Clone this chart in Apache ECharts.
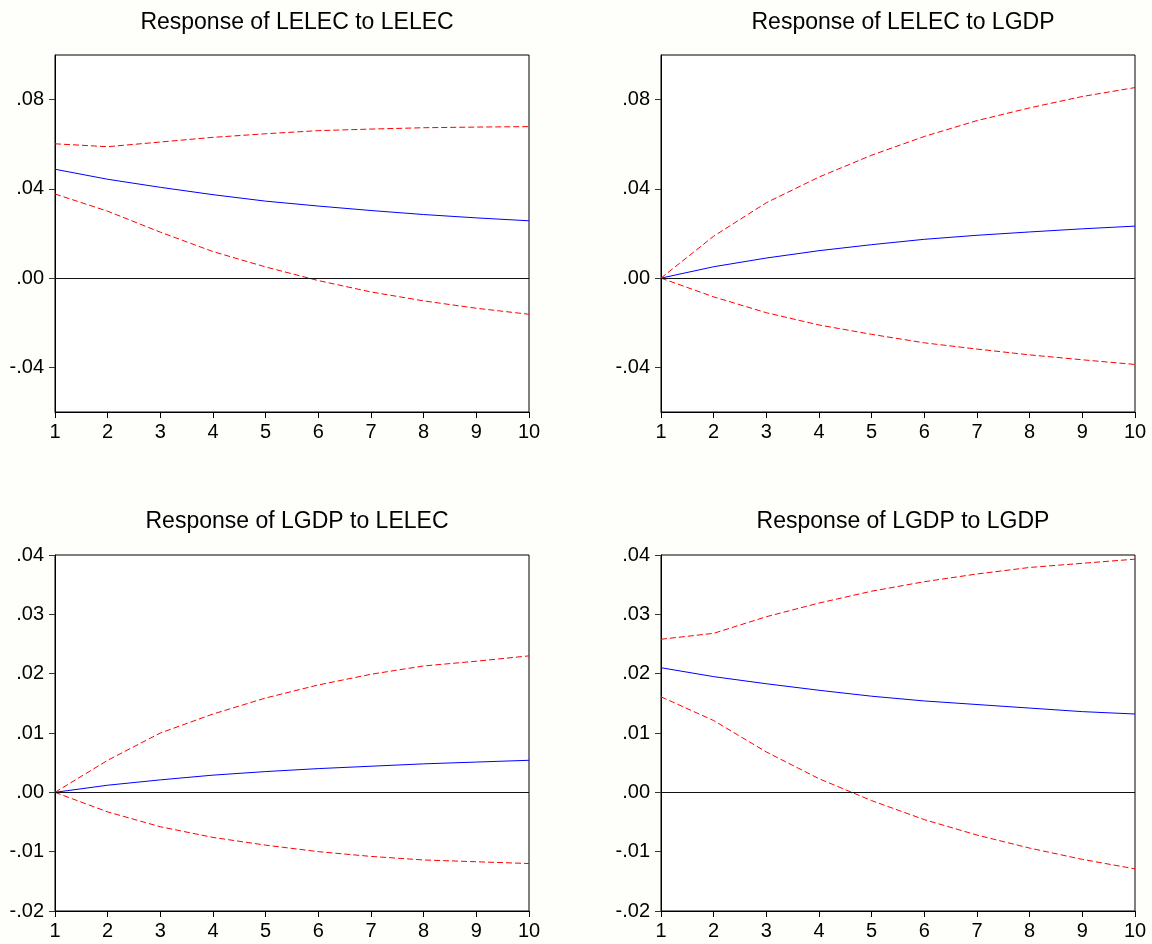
<!DOCTYPE html>
<html>
<head>
<meta charset="utf-8">
<script src="https://cdn.jsdelivr.net/npm/echarts@6/dist/echarts.min.js"></script>
<style>
html,body{margin:0;padding:0;background:#fefefa;}
#chart{width:1152px;height:944px;}
</style>
</head>
<body>
<div id="chart"></div>
<script>
const periods = [1, 2, 3, 4, 5, 6, 7, 8, 9, 10];

const titles = [
  "Response of LELEC to LELEC",
  "Response of LELEC to LGDP",
  "Response of LGDP to LELEC",
  "Response of LGDP to LGDP"
];

// Panel 1: LELEC to LELEC
const p1Resp  = [0.0488, 0.0443, 0.0407, 0.0374, 0.0345, 0.0323, 0.0303, 0.0285, 0.0270, 0.0257];
const p1Upper = [0.0602, 0.0589, 0.0610, 0.0631, 0.0647, 0.0661, 0.0668, 0.0674, 0.0677, 0.0679];
const p1Lower = [0.0377, 0.0300, 0.0206, 0.0119, 0.0050, -0.0011, -0.0062, -0.0102, -0.0135, -0.0162];

// Panel 2: LELEC to LGDP
const p2Resp  = [0.0000, 0.0051, 0.0090, 0.0123, 0.0150, 0.0174, 0.0192, 0.0207, 0.0221, 0.0233];
const p2Upper = [0.0000, 0.0188, 0.0338, 0.0453, 0.0551, 0.0635, 0.0706, 0.0763, 0.0814, 0.0854];
const p2Lower = [0.0000, -0.0084, -0.0155, -0.0210, -0.0252, -0.0290, -0.0318, -0.0344, -0.0366, -0.0387];

// Panel 3: LGDP to LELEC
const p3Resp  = [0.0000, 0.0012, 0.0021, 0.0029, 0.0035, 0.0040, 0.0044, 0.0048, 0.0051, 0.0054];
const p3Upper = [0.0000, 0.0054, 0.0100, 0.0132, 0.0159, 0.0181, 0.0199, 0.0213, 0.0221, 0.0230];
const p3Lower = [0.0000, -0.0033, -0.0058, -0.0076, -0.0089, -0.0100, -0.0108, -0.0114, -0.0117, -0.0120];

// Panel 4: LGDP to LGDP
const p4Resp  = [0.0210, 0.0195, 0.0183, 0.0172, 0.0162, 0.0154, 0.0148, 0.0142, 0.0136, 0.0132];
const p4Upper = [0.0258, 0.0268, 0.0296, 0.0319, 0.0339, 0.0355, 0.0368, 0.0379, 0.0386, 0.0393];
const p4Lower = [0.0161, 0.0121, 0.0068, 0.0023, -0.0014, -0.0046, -0.0072, -0.0094, -0.0113, -0.0129];

const topYTicks = [-0.04, 0.00, 0.04, 0.08];
const botYTicks = [-0.02, -0.01, 0.00, 0.01, 0.02, 0.03, 0.04];

const panels = [
  {resp: p1Resp, up: p1Upper, lo: p1Lower, min: -0.06, max: 0.10, ticks: topYTicks},
  {resp: p2Resp, up: p2Upper, lo: p2Lower, min: -0.06, max: 0.10, ticks: topYTicks},
  {resp: p3Resp, up: p3Upper, lo: p3Lower, min: -0.02, max: 0.04, ticks: botYTicks},
  {resp: p4Resp, up: p4Upper, lo: p4Lower, min: -0.02, max: 0.04, ticks: botYTicks}
];

const grids = [
  {left: 55, top: 55, width: 474, height: 357},
  {left: 661, top: 55, width: 474, height: 357},
  {left: 55, top: 555, width: 474, height: 356},
  {left: 661, top: 555, width: 474, height: 356}
];

const FONT = "Liberation Sans, Arial, sans-serif";

function fmt(v) {
  let s = Math.abs(v) < 1e-9 ? "0.00" : v.toFixed(2);
  return s.replace("0.", ".");
}

const option = {
  backgroundColor: "#fefefa",
  animation: false,
  title: titles.map((t, i) => ({
    text: t,
    left: grids[i].left + grids[i].width / 2,
    textAlign: "center",
    top: (i < 2 ? 6 : 505),
    textStyle: {fontFamily: FONT, fontSize: 23, fontWeight: "normal", color: "#000"}
  })),
  grid: grids.map(g => Object.assign({}, g, {
    show: true, backgroundColor: "#ffffff", borderColor: "#000", borderWidth: 1,
    containLabel: false
  })),
  xAxis: grids.map((g, i) => ({
    type: "value", gridIndex: i, min: 1, max: 10, interval: 1,
    axisLine: {show: true, onZero: false, lineStyle: {color: "#000", width: 1}},
    axisTick: {show: true, inside: false, length: 6, lineStyle: {color: "#000"}},
    axisLabel: {fontFamily: FONT, fontSize: 20, color: "#000", margin: 10},
    splitLine: {show: false}
  })),
  yAxis: panels.map((p, i) => ({
    type: "value", gridIndex: i, min: p.min, max: p.max,
    axisLine: {show: true, onZero: false, lineStyle: {color: "#000", width: 1}},
    axisTick: {show: true, inside: false, length: 6, customValues: p.ticks, lineStyle: {color: "#333"}},
    axisLabel: {fontFamily: FONT, fontSize: 20, color: "#000", margin: 11, customValues: p.ticks, formatter: fmt},
    splitLine: {show: false}
  })),
  series: []
};

panels.forEach((p, i) => {
  const mk = arr => periods.map((x, k) => [x, arr[k]]);
  option.series.push({
    type: "line", xAxisIndex: i, yAxisIndex: i, data: mk(p.resp),
    symbol: "none", lineStyle: {color: "#0000ff", width: 1}, z: 3,
    markLine: {
      silent: true, symbol: "none", label: {show: false},
      lineStyle: {color: "#111", width: 1, type: "solid"},
      data: [{yAxis: 0}]
    }
  });
  option.series.push({
    type: "line", xAxisIndex: i, yAxisIndex: i, data: mk(p.up),
    symbol: "none", lineStyle: {color: "#ff0000", width: 1, type: [6, 3]}, z: 4
  });
  option.series.push({
    type: "line", xAxisIndex: i, yAxisIndex: i, data: mk(p.lo),
    symbol: "none", lineStyle: {color: "#ff0000", width: 1, type: [6, 3]}, z: 4
  });
});

const chart = echarts.init(document.getElementById("chart"), null, {renderer: "canvas"});
chart.setOption(option);
</script>
</body>
</html>
